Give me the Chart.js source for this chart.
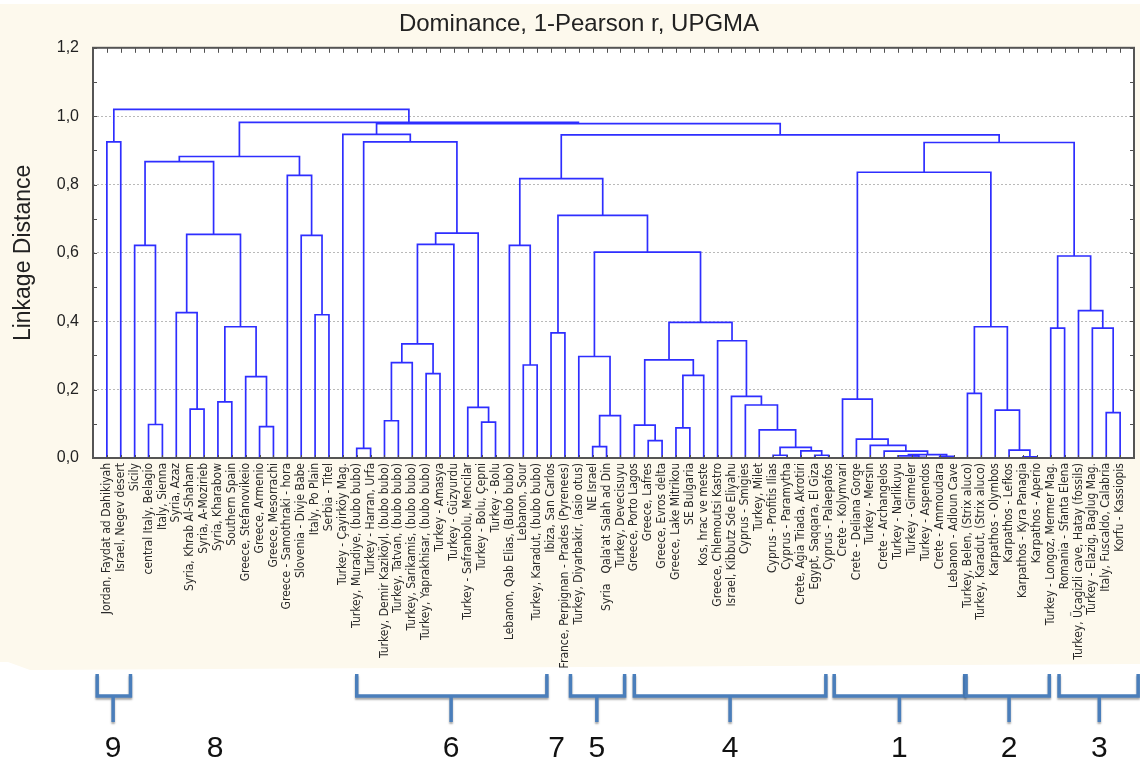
<!DOCTYPE html>
<html>
<head>
<meta charset="utf-8">
<script src="https://cdn.jsdelivr.net/npm/chart.js@4.4.1/dist/chart.umd.min.js"></script>
<style>
  html, body { margin: 0; padding: 0; background: #fff; }
</style>
</head>
<body>
<canvas id="dendro" width="1140" height="760"></canvas>
<script>
// leaves, left to right
const leafNames = [
  'Jordan, Faydat ad Dahikiyah', 'Israel, Negev desert', 'Sicily', 'central Italy, Belagio', 'Italy, Sienna',
  'Syria, Azaz', 'Syria, Khrab Al-Shaham', 'Syria, A-Mozirieb', 'Syria, Kharabow', 'Southern Spain',
  'Greece, Stefanovikeio', 'Greece, Armenio', 'Greece, Mesorrachi', 'Greece - Samothraki - hora', 'Slovenia - Divje Babe',
  'Italy, Po Plain', 'Serbia - Titel', 'Turkey - Çayirköy Mag.', 'Turkey, Muradiye, (bubo bubo)', 'Turkey - Harran, Urfa',
  'Turkey, Demir Kaziköyl, (bubo bubo)', 'Turkey, Tatvan, (bubo bubo)', 'Turkey, Sarikamis, (bubo bubo)', 'Turkey, Yaprakhisar, (bubo bubo)', 'Turkey - Amasya',
  'Turkey - Güzyurdu', 'Turkey - Safranbolu, Mencilar', 'Turkey - Bolu, Çepni', 'Turkey - Bolu', 'Lebanon, Qab Elias, (Bubo bubo)',
  'Lebanon, Sour', 'Turkey, Karadut, (bubo bubo)', 'Ibiza, San Carlos', 'France, Perpignan - Prades (Pyrenees)', 'Turkey, Diyarbakir, (asio otus)',
  'NE Israel', 'Syria   Qala\'at Salah ad Din', 'Turkey, Devecisuyu', 'Greece, Porto Lagos', 'Greece, Lafres',
  'Greece, Evros delta', 'Greece, Lake Mitrikou', 'SE Bulgaria', 'Kos, hrac ve meste', 'Greece, Chlemoutsi Kastro',
  'Israel, Kibbutz Sde Eliyahu', 'Cyprus - Smigies', 'Turkey, Milet', 'Cyprus - Profitis Ilias', 'Cyprus - Paramytha',
  'Crete, Agia Triada, Akrotiri', 'Egypt, Saqqara, El Giza', 'Cyprus - Palaepafos', 'Crete - Kolymvari', 'Crete - Deliana Gorge',
  'Turkey - Mersin', 'Crete - Archangelos', 'Turkey - Narlikuyu', 'Turkey - Girmeler', 'Turkey - Aspendos',
  'Crete - Ammoudara', 'Lebanon - Adloun Cave', 'Turkey, Belen, (Strix aluco)', 'Turkey, Karadut, (Strix aluco)', 'Karpathos - Olymbos',
  'Karpathos - Lefkos', 'Karpathos - Kyra Panagia', 'Karpathos - Aperio', 'Turkey - Longoz, Mermer Mag.', 'Romania - Sfanta Elena',
  'Turkey, Üçagizli cave, Hatay (fossils)', 'Turkey - Elazig, Baglug Mag.', 'Italy, Fuscaldo, Calabria', 'Korfu - Kassiopis'
];

// linkage: [left, right, distance]; numbers are leaves, 'mK' is merge K
const merges = [
  [0, 1, 0.925], [3, 4, 0.098], [2, 'm1', 0.622], [6, 7, 0.143], [5, 'm3', 0.425],
  [8, 9, 0.164], [11, 12, 0.092], [10, 'm6', 0.238], ['m5', 'm7', 0.384], ['m4', 'm8', 0.654],
  ['m2', 'm9', 0.867], [15, 16, 0.419], [14, 'm11', 0.651], [13, 'm12', 0.827], ['m10', 'm13', 0.882],
  [18, 19, 0.028], [20, 21, 0.109], ['m16', 22, 0.279], [23, 24, 0.247], ['m17', 'm18', 0.334],
  ['m19', 25, 0.625], [27, 28, 0.105], [26, 'm21', 0.148], ['m20', 'm22', 0.658], ['m15', 'm23', 0.925],
  [17, 'm24', 0.947], [30, 31, 0.272], [29, 'm26', 0.622], [32, 33, 0.366], [35, 36, 0.033],
  ['m29', 37, 0.124], [34, 'm30', 0.297], [39, 40, 0.051], [38, 'm32', 0.096], [41, 42, 0.088],
  ['m34', 43, 0.242], ['m33', 'm35', 0.287], [48, 49, 0.008], [51, 52, 0.008], [50, 'm38', 0.021],
  ['m37', 'm39', 0.031], [47, 'm40', 0.082], [46, 'm41', 0.155], [45, 'm42', 0.180], [44, 'm43', 0.343],
  ['m36', 'm44', 0.397], ['m31', 'm45', 0.602], ['m28', 'm46', 0.710], ['m27', 'm47', 0.817], [58, 59, 0.002],
  [57, 'm49', 0.006], [60, 61, 0.005], ['m50', 'm51', 0.010], [56, 'm52', 0.020], [55, 'm53', 0.037],
  [54, 'm54', 0.055], [53, 'm55', 0.172], [62, 63, 0.189], [66, 67, 0.003], [65, 'm58', 0.023],
  [64, 'm59', 0.140], ['m57', 'm60', 0.384], ['m56', 'm61', 0.836], [68, 69, 0.380], [72, 73, 0.133],
  [71, 'm64', 0.380], [70, 'm65', 0.431], ['m63', 'm66', 0.591], ['m62', 'm67', 0.923], ['m48', 'm68', 0.945],
  ['m25', 'm69', 0.978], ['m14', 'm70', 0.982], ['m0', 'm71', 1.020]
];

const yTicks = [0, 0.2, 0.4, 0.6, 0.8, 1.0, 1.2];

// cluster annotations under the chart (leaf-index units)
const groupNames = ['9', '8', '6', '7', '5', '4', '1', '2', '3'];
const groupFrom = [-0.7, null, 18, null, 33.4, 38, 52.4, 61.9, 68.6];
const groupTo = [1.7, null, 31.7, null, 37.3, 51.8, 61.8, 67.9, 74.3];
const groupLabelAt = [0.45, 7.8, 24.8, 32.4, 35.3, 44.9, 57.1, 65.0, 71.5];

// build the U-shaped links
const nodeX = [], nodeH = [];
function nodePos(ref) {
  if (typeof ref === 'number') return { x: ref, h: 0 };
  const k = +ref.slice(1);
  return { x: nodeX[k], h: nodeH[k] };
}
const links = merges.map(([a, b, h], k) => {
  const A = nodePos(a), B = nodePos(b);
  nodeX[k] = (A.x + B.x) / 2;
  nodeH[k] = h;
  return [{ x: A.x, y: A.h }, { x: A.x, y: h }, { x: B.x, y: h }, { x: B.x, y: B.h }];
});

const LINK_COLOR = '#2e2eff';

const backdrop = {
  id: 'backdrop',
  beforeDraw(chart) {
    const { ctx, chartArea: a } = chart;
    ctx.save();
    ctx.fillStyle = '#fdf9ed';
    ctx.beginPath();
    ctx.moveTo(0, 4);
    ctx.lineTo(1140, 4);
    ctx.lineTo(1140, 664);
    ctx.lineTo(30, 670);
    ctx.lineTo(8, 662);
    ctx.lineTo(0, 662);
    ctx.closePath();
    ctx.fill();
    ctx.fillStyle = '#ffffff';
    ctx.fillRect(a.left, a.top, a.right - a.left, a.bottom - a.top);
    ctx.restore();
  }
};

const frame = {
  id: 'frame',
  afterDatasetsDraw(chart) {
    const { ctx, chartArea: a, scales: { x, y } } = chart;
    ctx.save();
    ctx.strokeStyle = '#505050';
    ctx.lineWidth = 1;
    ctx.beginPath();
    for (let v = 0; v <= 1.2001; v += 0.1) {
      const py = Math.round(y.getPixelForValue(v)) + 0.5;
      ctx.moveTo(a.left, py); ctx.lineTo(a.left + 4, py);
      ctx.moveTo(a.right, py); ctx.lineTo(a.right - 4, py);
    }
    leafNames.forEach((n, i) => {
      const px = Math.round(x.getPixelForValue(i)) + 0.5;
      ctx.moveTo(px, a.top); ctx.lineTo(px, a.top + 5);
      ctx.moveTo(px, a.bottom); ctx.lineTo(px, a.bottom - 3);
    });
    ctx.stroke();
    ctx.lineWidth = 2;
    ctx.strokeStyle = '#555555';
    ctx.strokeRect(a.left, a.top, a.right - a.left, a.bottom - a.top);
    ctx.restore();
  }
};

const brackets = {
  id: 'brackets',
  afterDraw(chart) {
    const { ctx, scales: { x } } = chart;
    ctx.save();
    ctx.lineWidth = 3.5;
    ctx.lineCap = 'butt';
    ctx.strokeStyle = '#4a7ebb';
    ctx.shadowColor = 'rgba(0,0,0,0.35)';
    ctx.shadowOffsetY = 2;
    ctx.shadowBlur = 2;
    groupNames.forEach((g, i) => {
      if (groupFrom[i] === null) return;
      const x0 = x.getPixelForValue(groupFrom[i]);
      const x1 = x.getPixelForValue(groupTo[i]);
      const xm = x.getPixelForValue(groupLabelAt[i]);
      ctx.beginPath();
      ctx.moveTo(x0, 674); ctx.lineTo(x0, 696); ctx.lineTo(x1, 696); ctx.lineTo(x1, 674);
      ctx.moveTo(xm, 696); ctx.lineTo(xm, 722);
      ctx.stroke();
    });
    ctx.shadowColor = 'transparent';
    ctx.fillStyle = '#111';
    ctx.font = '30px "Liberation Sans Narrow", "Liberation Sans", sans-serif';
    ctx.textAlign = 'center';
    ctx.textBaseline = 'alphabetic';
    groupNames.forEach((g, i) => {
      ctx.fillText(g, x.getPixelForValue(groupLabelAt[i]), 757);
    });
    ctx.restore();
  }
};

new Chart(document.getElementById('dendro'), {
  type: 'line',
  data: {
    datasets: links.map(pts => ({
      data: pts,
      borderColor: LINK_COLOR,
      borderWidth: 1.7,
      pointRadius: 0,
      fill: false,
      tension: 0
    }))
  },
  options: {
    responsive: false,
    animation: false,
    layout: { padding: { left: 24, right: 6, top: 0, bottom: 92 } },
    plugins: {
      legend: { display: false },
      tooltip: { enabled: false },
      title: {
        display: true,
        text: 'Dominance, 1-Pearson r, UPGMA',
        color: '#222',
        font: { family: '"Liberation Sans", Arial, sans-serif', size: 24, weight: 'normal' },
        padding: { top: 10, bottom: 9 }
      }
    },
    scales: {
      x: {
        type: 'linear',
        min: -1,
        max: leafNames.length,
        afterBuildTicks: scale => { scale.ticks = leafNames.map((n, i) => ({ value: i })); },
        afterFit: scale => { scale.height = 210; },
        grid: { display: false, drawTicks: false },
        border: { display: false },
        ticks: {
          autoSkip: false,
          minRotation: 90,
          maxRotation: 90,
          padding: 5,
          color: '#2a2a2a',
          font: { family: '"DejaVu Sans Condensed", "Liberation Sans", sans-serif', size: 12 },
          callback: (v, i) => leafNames[i]
        }
      },
      y: {
        min: 0,
        max: 1.2,
        afterBuildTicks: scale => { scale.ticks = yTicks.map(v => ({ value: v })); },
        afterFit: scale => { scale.width = 69; },
        grid: {
          drawTicks: false,
          lineWidth: 1,
          color: c => (c.tick && (c.tick.value === 0 || c.tick.value === 1.2)) ? 'rgba(0,0,0,0)' : '#b9b9b9'
        },
        border: { display: false, dash: [2, 2] },
        ticks: {
          padding: 14,
          color: '#222',
          font: { family: '"Liberation Sans", Arial, sans-serif', size: 16 },
          callback: v => v.toFixed(1).replace('.', ',')
        },
        title: {
          display: true,
          text: 'Linkage Distance',
          color: '#222',
          font: { family: '"Liberation Sans", Arial, sans-serif', size: 23 },
          padding: { top: -14, bottom: 0 }
        }
      }
    }
  },
  plugins: [backdrop, frame, brackets]
});
</script>
</body>
</html>
